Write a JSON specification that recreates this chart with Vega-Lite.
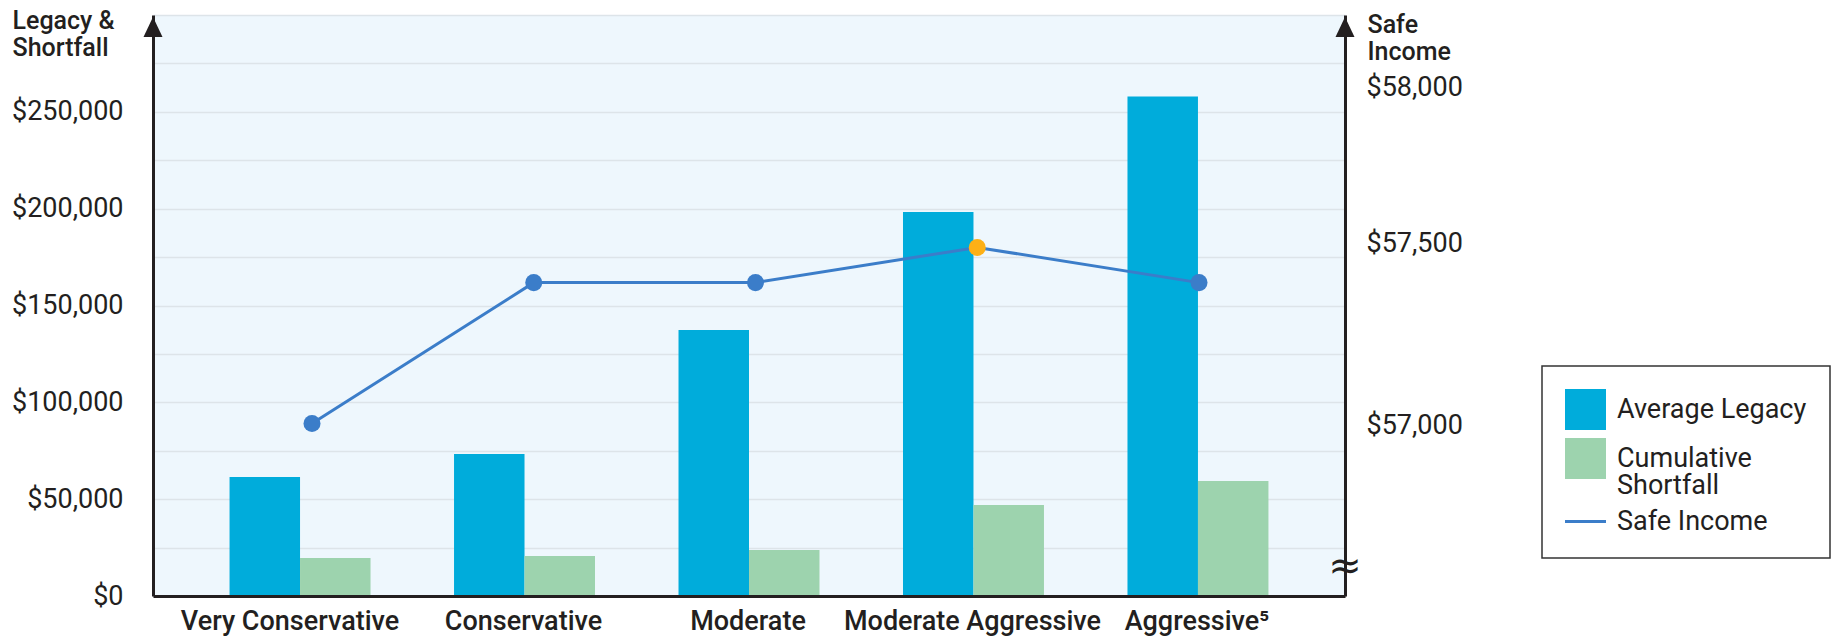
{
  "$schema": "https://vega.github.io/schema/vega-lite/v6.json",
  "width": 1192,
  "height": 581,
  "autosize": {"type": "none"},
  "padding": {"left": 153, "top": 15, "right": 496, "bottom": 42},
  "background": "white",
  "config": {
    "font": "Roboto",
    "view": {"fill": "#eef7fd", "stroke": null},
    "axis": {
      "domainColor": "#231f20",
      "domainWidth": 3,
      "ticks": false,
      "tickSize": 0,
      "labelColor": "#231f20",
      "titleColor": "#231f20",
      "gridColor": "#dde4e9",
      "gridWidth": 1.5,
      "labelFont": "Roboto",
      "titleFont": "Roboto"
    }
  },
  "datasets": {
    "portfolio": [
      {"risk": "Very Conservative", "measure": "Average Legacy", "amount": 61500},
      {"risk": "Very Conservative", "measure": "Cumulative Shortfall", "amount": 19600},
      {"risk": "Conservative", "measure": "Average Legacy", "amount": 73300},
      {"risk": "Conservative", "measure": "Cumulative Shortfall", "amount": 20700},
      {"risk": "Moderate", "measure": "Average Legacy", "amount": 137400},
      {"risk": "Moderate", "measure": "Cumulative Shortfall", "amount": 23800},
      {"risk": "Moderate Aggressive", "measure": "Average Legacy", "amount": 198300},
      {"risk": "Moderate Aggressive", "measure": "Cumulative Shortfall", "amount": 47000},
      {"risk": "Aggressive⁵", "measure": "Average Legacy", "amount": 257900},
      {"risk": "Aggressive⁵", "measure": "Cumulative Shortfall", "amount": 59400}
    ],
    "income": [
      {"risk": "Very Conservative", "income": 57000},
      {"risk": "Conservative", "income": 57400},
      {"risk": "Moderate", "income": 57400},
      {"risk": "Moderate Aggressive", "income": 57500},
      {"risk": "Aggressive⁵", "income": 57400}
    ]
  },
  "encoding": {
    "x": {
      "field": "risk",
      "type": "nominal",
      "sort": ["Very Conservative", "Conservative", "Moderate", "Moderate Aggressive", "Aggressive⁵"],
      "scale": {"paddingInner": 0.372, "paddingOuter": 0.341},
      "axis": {
        "title": null,
        "labelAngle": 0,
        "labelFontSize": 27,
        "labelFontWeight": 500,
        "labelPadding": 12,
        "labelLimit": 400,
        "labelOverlap": false,
        "labelOffset": {
          "condition": {"test": "datum.value === 'Very Conservative'", "value": -10},
          "value": -1
        },
        "grid": false,
        "zindex": 1
      }
    }
  },
  "layer": [
    {
      "layer": [
        {
          "data": {"name": "portfolio"},
          "mark": {"type": "bar"},
          "encoding": {
            "xOffset": {
              "field": "measure",
              "type": "nominal",
              "sort": ["Average Legacy", "Cumulative Shortfall"],
              "scale": {"paddingInner": 0, "paddingOuter": 0}
            },
            "y": {
              "field": "amount",
              "type": "quantitative",
              "scale": {"domain": [0, 300000], "nice": false},
              "axis": {
                "title": ["Legacy &", "Shortfall"],
                "titleAngle": 0,
                "titleAlign": "left",
                "titleBaseline": "top",
                "titleX": -141,
                "titleY": -7,
                "titleFontSize": 25,
                "titleFontWeight": 500,
                "titleLineHeight": 27,
                "values": [0, 25000, 50000, 75000, 100000, 125000, 150000, 175000, 200000, 225000, 250000, 275000, 300000],
                "format": "$,.0f",
                "labelExpr": "datum.value % 50000 === 0 && datum.value < 300000 ? datum.label : ''",
                "labelFontSize": 27,
                "labelPadding": 30,
                "labelOverlap": false,
                "labelFlush": false,
                "grid": true
              }
            },
            "color": {
              "field": "measure",
              "type": "nominal",
              "scale": {
                "domain": ["Average Legacy", "Cumulative Shortfall", "Safe Income"],
                "range": ["#00acdb", "#9dd3ae", "#3b7dc9"]
              },
              "legend": {
                "title": " ",
                "titleFontSize": 1,
                "titlePadding": 6,
                "orient": "none",
                "legendX": 1389,
                "legendY": 351,
                "labelFont": "Roboto",
                "labelFontSize": 27,
                "labelColor": "#231f20",
                "labelLimit": 400,
                "labelOffset": 18,
                "symbolOffset": 7,
                "padding": 23,
                "rowPadding": 8,
                "strokeColor": "#333333",
                "symbolSize": 1681,
                "labelExpr": "datum.label === 'Cumulative Shortfall' ? ['Cumulative', 'Shortfall'] : datum.label",
                "encode": {
                  "legend": {"update": {"strokeWidth": {"value": 1.5}}},
                  "labels": {"update": {"lineHeight": {"value": 27}}},
                  "symbols": {
                    "update": {
                      "shape": {"signal": "datum.value === 'Safe Income' ? 'stroke' : 'square'"},
                      "size": {"value": 1681},
                      "fill": {"scale": "color", "field": "value"},
                      "stroke": {"scale": "color", "field": "value"},
                      "strokeWidth": {"signal": "datum.value === 'Safe Income' ? 3 : 0"},
                      "opacity": {"value": 1},
                      "fillOpacity": {"value": 1}
                    }
                  }
                }
              }
            }
          }
        },
        {
          "data": {"values": [{}]},
          "mark": {"type": "point", "shape": "M0,0L-0.5,1.05L0.5,1.05Z", "filled": true, "opacity": 1, "color": "#231f20", "size": 1444},
          "encoding": {
            "x": {"value": 0},
            "y": {"datum": 299000, "type": "quantitative"}
          }
        },
        {
          "data": {"values": [{}]},
          "mark": {"type": "point", "shape": "M0,0L-0.5,1.05L0.5,1.05Z", "filled": true, "opacity": 1, "color": "#231f20", "size": 1444},
          "encoding": {
            "x": {"value": "width"},
            "y": {"datum": 299000, "type": "quantitative"}
          }
        },
        {
          "data": {"values": [{}]},
          "mark": {"type": "text", "text": "≈", "font": "DejaVu Sans", "fontSize": 40, "color": "#231f20", "align": "center", "baseline": "middle"},
          "encoding": {
            "x": {"value": "width"},
            "y": {"datum": 15000, "type": "quantitative"}
          }
        }
      ]
    },
    {
      "data": {"name": "income"},
      "encoding": {
        "x": {
          "field": "risk",
          "type": "nominal",
          "sort": ["Very Conservative", "Conservative", "Moderate", "Moderate Aggressive", "Aggressive⁵"],
          "scale": {"type": "point", "range": [159, 1046], "padding": 0},
          "axis": null
        },
        "y": {
          "field": "income",
          "type": "quantitative",
          "scale": {"domain": [56510, 58160], "nice": false, "zero": false},
          "axis": {
            "orient": "right",
            "title": ["Safe", "Income"],
            "titleAngle": 0,
            "titleAlign": "left",
            "titleBaseline": "top",
            "titleX": 22,
            "titleY": -3,
            "titleFontSize": 25,
            "titleFontWeight": 500,
            "titleLineHeight": 27,
            "values": [57000, 57500, 58000],
            "format": "$,.0f",
            "labelFontSize": 27,
            "labelPadding": 21,
            "labelOverlap": false,
            "labelFlush": false,
            "labelOffset": {
              "condition": [
                {"test": "datum.value === 58000", "value": 16},
                {"test": "datum.value === 57500", "value": -4}
              ],
              "value": 2
            },
            "grid": false,
            "zindex": 1
          }
        }
      },
      "layer": [
        {
          "mark": {"type": "line", "strokeWidth": 3},
          "encoding": {"color": {"datum": "Safe Income"}}
        },
        {
          "mark": {"type": "point", "filled": true, "opacity": 1, "size": 290},
          "encoding": {
            "color": {
              "condition": {"test": "datum.risk === 'Moderate Aggressive'", "value": "#fdb016"},
              "value": "#3b7dc9"
            }
          }
        }
      ]
    }
  ],
  "resolve": {"scale": {"x": "independent", "y": "independent"}}
}
